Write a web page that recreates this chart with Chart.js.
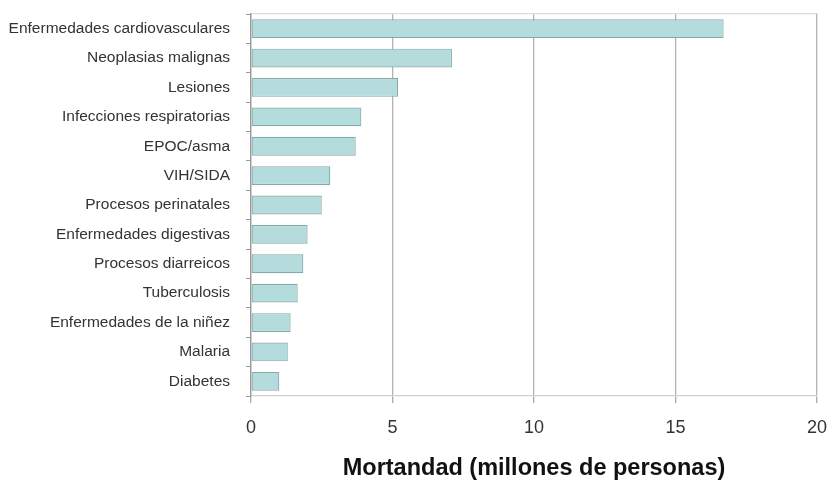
<!DOCTYPE html>
<html>
<head>
<meta charset="utf-8">
<script src="https://cdn.jsdelivr.net/npm/chart.js@4/dist/chart.umd.min.js"></script>
<style>
html,body{margin:0;padding:0;background:#fff;}
#wrap{width:828px;height:484px;position:relative;}
</style>
</head>
<body>
<div id="wrap"><canvas id="c"></canvas></div>
<script>
const categories = [
  "Enfermedades cardiovasculares",
  "Neoplasias malignas",
  "Lesiones",
  "Infecciones respiratorias",
  "EPOC/asma",
  "VIH/SIDA",
  "Procesos perinatales",
  "Enfermedades digestivas",
  "Procesos diarreicos",
  "Tuberculosis",
  "Enfermedades de la niñez",
  "Malaria",
  "Diabetes"
];
const mortalidad = [16.7, 7.1, 5.2, 3.9, 3.7, 2.8, 2.5, 2.0, 1.85, 1.65, 1.4, 1.3, 1.0];
const xTicks = [0, 5, 10, 15, 20];
const xTitle = "Mortandad (millones de personas)";

const FONT = "'Liberation Sans', Arial, sans-serif";

function noPad(s) { s.paddingLeft = 0; s.paddingRight = 0; s.paddingTop = 0; s.paddingBottom = 0; }

new Chart(document.getElementById('c'), {
  type: 'bar',
  data: {
    labels: categories,
    datasets: [{
      data: mortalidad,
      backgroundColor: '#b5dcdc',
      borderColor: '#86a9a9',
      borderWidth: 1.2,
      borderSkipped: false,
      barPercentage: 0.8,
      categoryPercentage: 0.8
    }]
  },
  options: {
    indexAxis: 'y',
    responsive: true,
    maintainAspectRatio: false,
    animation: false,
    layout: { padding: { top: 14, right: 11, bottom: 0, left: 0 } },
    plugins: { legend: { display: false }, tooltip: { enabled: false } },
    scales: {
      x: {
        type: 'linear',
        position: 'bottom',
        min: 0, max: 20,
        afterBuildTicks: (s) => { s.ticks = xTicks.map(v => ({ value: v })); },
        afterFit: (s) => { s.height = 88; noPad(s); },
        ticks: {
          padding: 14,
          color: '#333',
          font: { family: FONT, size: 18 }
        },
        grid: {
          color: '#b4b4b4',
          lineWidth: 1.3,
          drawTicks: true,
          tickLength: 7,
          tickColor: '#aaa'
        },
        border: { display: true, color: '#cfcfcf', width: 1.3 },
        title: {
          display: true,
          text: xTitle,
          color: '#111',
          font: { family: FONT, size: 23.5, weight: 'bold' },
          padding: { top: 16, bottom: 1 }
        }
      },
      x2: {
        type: 'linear',
        position: 'top',
        min: 0, max: 20,
        afterFit: (s) => { s.height = 0; noPad(s); },
        ticks: { display: false },
        grid: { display: false },
        border: { display: true, color: '#dddddd', width: 1.3 }
      },
      y: {
        type: 'category',
        offset: true,
        afterFit: (s) => { s.width = 251; noPad(s); },
        ticks: {
          padding: 16,
          color: '#333',
          font: { family: FONT, size: 15.5 }
        },
        grid: {
          offset: true,
          drawOnChartArea: false,
          drawTicks: true,
          tickLength: 5,
          tickColor: '#999',
          color: '#999'
        },
        border: { display: true, color: '#999', width: 1.3 }
      }
    }
  }
});
</script>
</body>
</html>
